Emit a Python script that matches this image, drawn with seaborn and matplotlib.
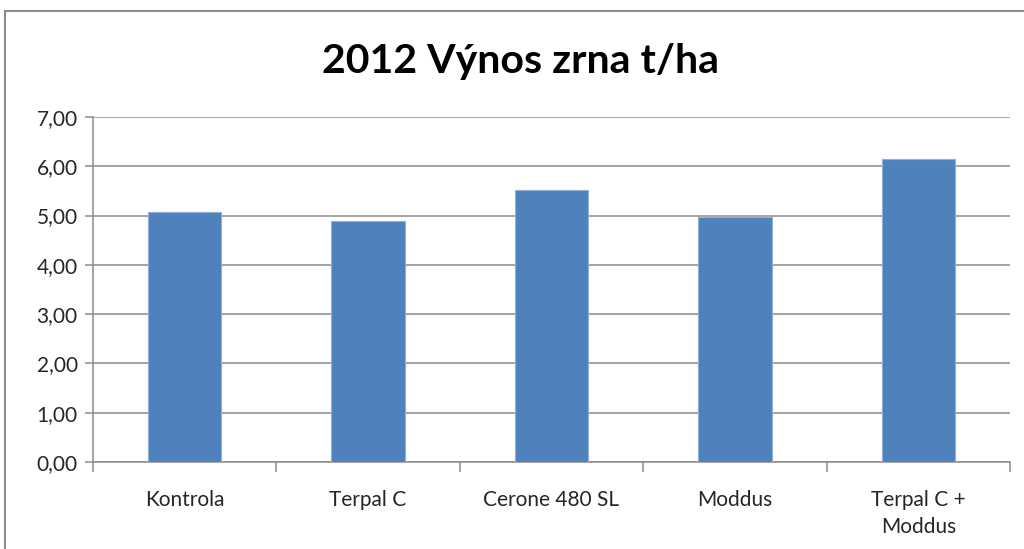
import matplotlib
matplotlib.use("Agg")
import matplotlib.pyplot as plt
import seaborn as sns
import pandas as pd
from matplotlib.patches import Rectangle
from matplotlib.ticker import FuncFormatter, FixedLocator

categories = ["Kontrola", "Terpal C", "Cerone 480 SL", "Moddus", "Terpal C +\nModdus"]
values = [5.08, 4.90, 5.52, 4.98, 6.15]
title = "2012 Výnos zrna t/ha"

sns.set_style("white")
plt.rcParams['font.family'] = ['Lato', 'DejaVu Sans']

df = pd.DataFrame({"cat": categories, "val": values})

fig = plt.figure(figsize=(10.24, 5.49), dpi=100)
ax = fig.add_axes([93/1024, 1-462/549, (1010-93)/1024, (462-117)/549])

sns.barplot(data=df, x="cat", y="val", color="#4F81BD", width=0.4, ax=ax,
            saturation=1, edgecolor="#8EB0DA", linewidth=0.8, zorder=3)

ax.set_ylim(0, 7)
ax.set_xlim(-0.5, len(categories) - 0.5)
ax.set_yticks([0, 1, 2, 3, 4, 5, 6, 7])
ax.yaxis.set_major_formatter(FuncFormatter(lambda v, p: f"{v:.2f}".replace(".", ",")))
ax.yaxis.grid(True, color="#8C8C8C", linewidth=1.1, zorder=0)
ax.set_axisbelow(True)

for s in ["top", "right"]:
    ax.spines[s].set_visible(False)
for s in ["left", "bottom"]:
    ax.spines[s].set_color("#8C8C8C")
    ax.spines[s].set_linewidth(1.1)

ax.tick_params(axis="y", which="major", direction="out", length=6, width=1.1,
               color="#8C8C8C", labelsize=15, pad=5, left=True)
ax.tick_params(axis="x", which="major", length=0, labelsize=15, pad=20)
ax.xaxis.set_minor_locator(FixedLocator([i - 0.5 for i in range(len(categories) + 1)]))
ax.tick_params(axis="x", which="minor", direction="out", length=7, width=1.1,
               color="#8C8C8C", bottom=True)
ax.set_xlabel("")
ax.set_ylabel("")
for lbl in ax.get_xticklabels():
    lbl.set_linespacing(1.45)

fig.text(521/1024, 1 - 62/549, title, ha="center", va="center",
         fontsize=29.5, fontweight="bold", color="black")

fig.patches.append(Rectangle((5/1024, -0.1), 1.2, 1 - 11/549 + 0.1,
                             transform=fig.transFigure, fill=False,
                             edgecolor="#8C8C8C", linewidth=1.5))

fig.savefig("out.png", dpi=100, facecolor="white")
